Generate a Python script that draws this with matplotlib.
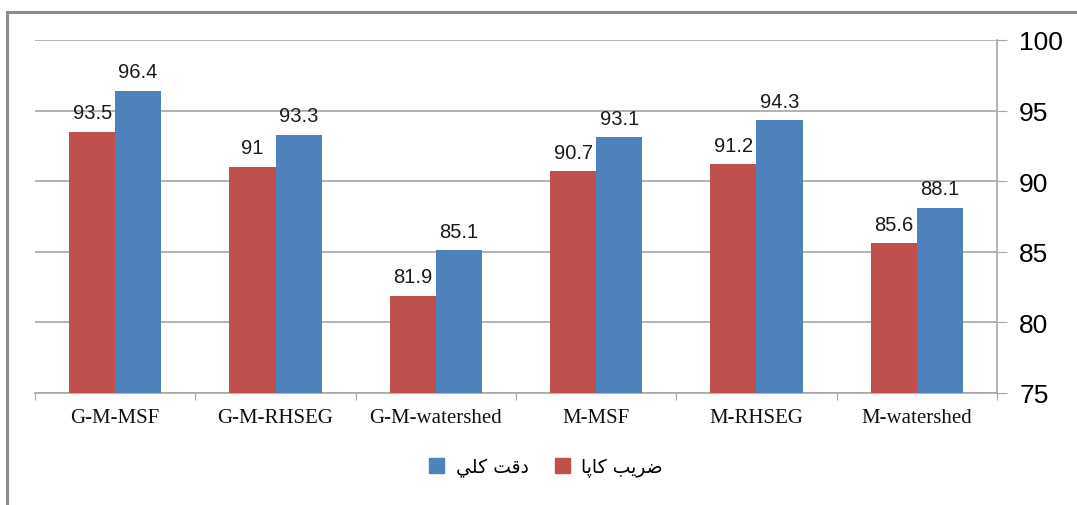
import matplotlib
matplotlib.use("Agg")
import matplotlib.pyplot as plt
from matplotlib.patches import Rectangle, Patch
import numpy as np

categories = ["G-M-MSF", "G-M-RHSEG", "G-M-watershed", "M-MSF", "M-RHSEG", "M-watershed"]
kappa = [93.5, 91, 81.9, 90.7, 91.2, 85.6]
overall = [96.4, 93.3, 85.1, 93.1, 94.3, 88.1]
kappa_labels = ["93.5", "91", "81.9", "90.7", "91.2", "85.6"]
overall_labels = ["96.4", "93.3", "85.1", "93.1", "94.3", "88.1"]
yticks = [75, 80, 85, 90, 95, 100]
# Arabic legend labels (shaped presentation forms in visual order)
label_kappa = "\uFE8E\uFB58\uFE8E\uFB90 \uFE90\uFEF3\uFEAE\uFEBF"   # ضريب کاپا
label_overall = "\uFEF2\uFEE0\uFB90 \uFE96\uFED7\uFEA9"             # دقت کلي

RED = "#C0504D"
BLUE = "#4F81BD"
GRID = "#A6A6A6"

fig = plt.figure(figsize=(10.77, 5.06), dpi=100)
fig.patches.append(Rectangle((7/1077, -0.1), 1.2, 1 - 13/506 + 0.1, transform=fig.transFigure,
                             fill=False, edgecolor="#8C8C8C", linewidth=2.2))

ax = fig.add_axes([35/1077, 1 - 394/506, 962/1077, 353/506])
x = np.arange(len(categories))
w = 0.287
b1 = ax.bar(x - w/2, kappa, w, color=RED, zorder=3)
b2 = ax.bar(x + w/2, overall, w, color=BLUE, zorder=3)

for bars, labs in ((b1, kappa_labels), (b2, overall_labels)):
    for bar, lab in zip(bars, labs):
        ax.annotate(lab, (bar.get_x() + bar.get_width()/2, bar.get_height()),
                    xytext=(0, 7), textcoords="offset points", ha="center", va="bottom",
                    fontsize=14.5, family="Liberation Sans", color="#1a1a1a")

ax.set_ylim(75, 100)
ax.set_xlim(-0.5, len(categories) - 0.5)
ax.yaxis.tick_right()
ax.set_yticks(yticks)
ax.set_yticklabels([str(t) for t in yticks], fontsize=19, family="Liberation Sans")
ax.tick_params(axis="y", direction="out", length=7, color=GRID, pad=9)
ax.set_xticks(np.arange(len(categories) + 1) - 0.5, minor=False)
ax.set_xticklabels([""] * (len(categories) + 1))
ax.tick_params(axis="x", direction="out", length=5, color=GRID)
for i, c in enumerate(categories):
    ax.text(i, -0.07, c, transform=ax.get_xaxis_transform(), ha="center", va="center",
            fontsize=15, family="Liberation Serif", color="#111111")

ax.grid(axis="y", color=GRID, linewidth=1.2, zorder=0)
ax.set_axisbelow(True)
for s in ("top", "left"):
    ax.spines[s].set_visible(False)
ax.spines["right"].set_color(GRID)
ax.spines["bottom"].set_color(GRID)
ax.spines["right"].set_linewidth(1.2)
ax.spines["bottom"].set_linewidth(1.2)

handles = [Patch(color=BLUE), Patch(color=RED)]
fig.legend(handles, [label_overall, label_kappa], loc="center", bbox_to_anchor=(546/1077, 1 - 468/506),
           ncol=2, frameon=False, markerfirst=True, handlelength=0.8, handleheight=0.8,
           columnspacing=1.4, handletextpad=0.6, prop={"family": "DejaVu Sans", "size": 13.5})

fig.savefig("out.png", dpi=100)
